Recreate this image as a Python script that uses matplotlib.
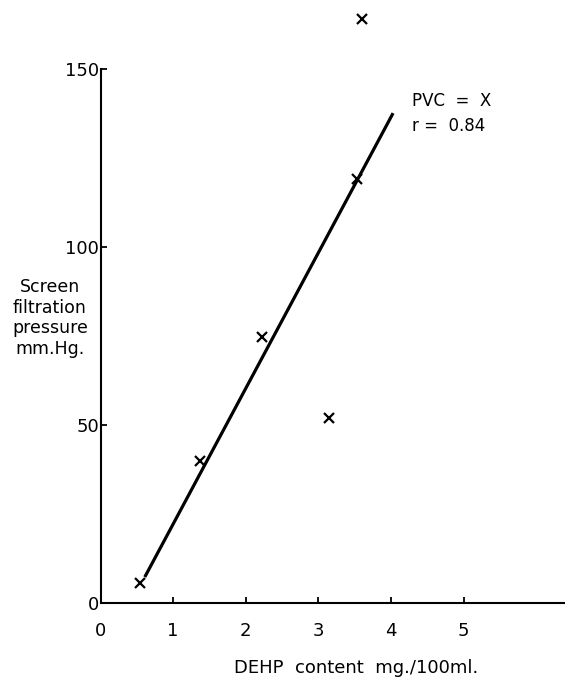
"""Screen filtration pressure against DEHP content for PVC bags, with the fitted line."""
import matplotlib
matplotlib.use("Agg")
import matplotlib.pyplot as plt

# points
dehp = [0.55, 1.37, 2.22, 3.15, 3.53, 3.60]
pressure = [5.6, 40.0, 74.7, 52.0, 119.0, 164.0]

# ends of the drawn regression line
fit_x = [0.61, 4.03]
fit_y = [7.3, 137.6]

x_ticks = [0, 1, 2, 3, 4, 5]
y_ticks = [0, 50, 100, 150]

plt.rcParams["font.family"] = ["DejaVu Sans"]

fig = plt.figure(figsize=(5.65, 6.79), dpi=100)
ax = fig.add_axes([100.5 / 565, 1 - 603 / 679, 1 - 100.5 / 565, 603 / 679])

ax.plot(fit_x, fit_y, color="black", lw=2.3, solid_capstyle="butt")
ax.plot(dehp, pressure, ls="none", marker="x", ms=7, mew=1.6, color="black", clip_on=False)

ax.set_xlim(0, (565 - 100.5) / 72.6)
ax.set_ylim(0, 603 / 3.56)

for side in ("top", "right"):
    ax.spines[side].set_visible(False)
for side in ("left", "bottom"):
    ax.spines[side].set_linewidth(1.5)
ax.spines["left"].set_bounds(0, 150)

ax.set_xticks(x_ticks)
ax.set_yticks(y_ticks)
ax.tick_params(axis="both", direction="in", length=4, width=1.3, labelsize=13)
ax.tick_params(axis="x", pad=14)
ax.tick_params(axis="y", pad=1)

ax.text(4.29, 141, "PVC  =  X", fontsize=12, va="center", ha="left")
ax.text(4.29, 134, "r =  0.84", fontsize=12, va="center", ha="left")

fig.text(356 / 565, 1 - 668 / 679, "DEHP  content  mg./100ml.", fontsize=13,
         ha="center", va="center")
fig.text(50 / 565, 1 - 318 / 679, "Screen\nfiltration\npressure\nmm.Hg.", fontsize=12.5,
         ha="center", va="center", multialignment="center")

fig.savefig("out.png", dpi=100)
